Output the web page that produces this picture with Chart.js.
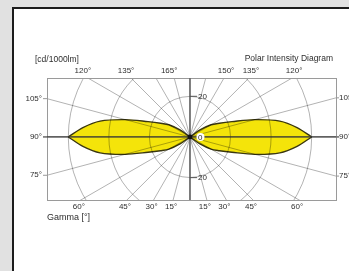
<!DOCTYPE html>
<html><head><meta charset="utf-8">
<script src="https://cdn.jsdelivr.net/npm/chart.js@4.4.1/dist/chart.umd.min.js"></script>
<style>
html,body{margin:0;padding:0;background:#e1e1e1;width:349px;height:271px;overflow:hidden}
#panel{position:absolute;left:12px;top:7px;width:400px;height:300px;background:#fff;border-left:2px solid #1c1c1c;border-top:2px solid #1c1c1c}
#c{position:absolute;left:0;top:0}
</style></head><body>
<div id="panel"></div>
<canvas id="c" width="349" height="271"></canvas>
<script>
// Off-axis angle from the 90° gamma axis (deg) and luminous intensity (cd/1000lm)
const offAxisAngles = [0, 5, 10, 15, 20, 25, 30, 35, 40];
const intensityLeft = [60, 53, 45, 33, 22, 16, 12, 6, 0];
const intensityRight = [60, 53, 45, 33, 22, 16, 12, 6, 0];
const circleValues = [20, 40, 60];
const radialGammas = [0, 15, 30, 45, 60, 75, 90, 105, 120, 135, 150, 165, 180];
const topLeftLabels = [120, 135, 165];
const topRightLabels = [150, 135, 120];
const bottomLabels = [60, 45, 30, 15];
const sideLabels = [105, 90, 75];
const radialLabels = [20, 0, -20];
const unitText = '[cd/1000lm]';
const titleText = 'Polar Intensity Diagram';
const axisText = 'Gamma [°]';

const rad = d => d * Math.PI / 180;
function half(intens, side, sign) {
  const pts = [];
  for (let i = offAxisAngles.length - 1; i >= 0; i--) {
    const a = rad(offAxisAngles[i]);
    pts.push({x: side * intens[i] * Math.cos(a), y: sign * intens[i] * Math.sin(a)});
  }
  return pts;
}
const yellow = '#f4e40a', edge = '#3a3710';
function ds(data) {
  return {data, showLine: true, borderColor: edge, borderWidth: 1.4, pointRadius: 0, tension: 0.3,
    fill: {target: 'origin', above: yellow, below: yellow}};
}

const gridPlugin = {
  id: 'polarGrid',
  afterDatasetsDraw(chart) {
    const {ctx, chartArea: ca, scales: {x, y}} = chart;
    const cx = x.getPixelForValue(0), cy = y.getPixelForValue(0);
    const pu = x.getPixelForValue(1) - cx;
    ctx.save();
    ctx.beginPath(); ctx.rect(ca.left, ca.top, ca.right - ca.left, ca.bottom - ca.top); ctx.clip();
    ctx.strokeStyle = 'rgba(0,0,0,0.3)'; ctx.lineWidth = 1;
    circleValues.forEach(v => { ctx.beginPath(); ctx.arc(cx, cy, v * pu, 0, Math.PI * 2); ctx.stroke(); });
    radialGammas.forEach(g => {
      [-1, 1].forEach(s => {
        ctx.beginPath(); ctx.moveTo(cx, cy);
        ctx.lineTo(cx + s * Math.sin(rad(g)) * 500, cy + Math.cos(rad(g)) * 500); ctx.stroke();
      });
    });
    ctx.restore();
    ctx.save();
    ctx.strokeStyle = '#9a9a9a'; ctx.lineWidth = 1;
    ctx.strokeRect(Math.round(ca.left) + 0.5, Math.round(ca.top) + 0.5, Math.round(ca.right - ca.left), Math.round(ca.bottom - ca.top));
    ctx.strokeStyle = '#3a3a3a'; ctx.lineWidth = 1.2;
    ctx.beginPath(); ctx.moveTo(ca.left - 4, cy); ctx.lineTo(ca.right + 3, cy); ctx.stroke();
    ctx.strokeStyle = '#555'; ctx.lineWidth = 1.2;
    ctx.beginPath(); ctx.moveTo(cx, ca.top); ctx.lineTo(cx, ca.bottom); ctx.stroke();
    ctx.strokeStyle = '#999'; ctx.lineWidth = 1;
    sideLabels.forEach(g => {
      const dy = (cx - ca.left) / Math.tan(rad(g));
      ctx.beginPath(); ctx.moveTo(ca.left - 4, cy + dy); ctx.lineTo(ca.left, cy + dy); ctx.stroke();
      const dyr = (ca.right - cx) / Math.tan(rad(g));
      ctx.beginPath(); ctx.moveTo(ca.right, cy + dyr); ctx.lineTo(ca.right + 3, cy + dyr); ctx.stroke();
    });
    ctx.strokeStyle = '#555';
    radialLabels.forEach(v => {
      if (v === 0) return;
      const py = y.getPixelForValue(v);
      ctx.beginPath(); ctx.moveTo(cx, py); ctx.lineTo(cx + 7, py); ctx.stroke();
    });
    ctx.fillStyle = '#111'; ctx.beginPath(); ctx.arc(cx, cy, 2.4, 0, Math.PI * 2); ctx.fill();

    ctx.fillStyle = '#2e2e2e';
    ctx.font = '8px "Liberation Sans", Arial, sans-serif';
    ctx.textBaseline = 'middle';
    const topY = ca.top - 7, botY = ca.bottom + 7;
    const upH = cy - ca.top, dnH = ca.bottom - cy;
    ctx.textAlign = 'center';
    topLeftLabels.forEach(g => {
      const dx = upH * Math.tan(rad(180 - g));
      ctx.fillText(g + '°', cx - dx - 5, topY);
    });
    topRightLabels.forEach(g => {
      const dx = upH * Math.tan(rad(180 - g));
      ctx.fillText(g + '°', cx + dx + 2, topY);
    });
    bottomLabels.forEach(g => {
      const dx = dnH * Math.tan(rad(g));
      ctx.fillText(g + '°', cx - dx - 2, botY);
      ctx.fillText(g + '°', cx + dx - 2, botY);
    });
    sideLabels.forEach(g => {
      const dyl = (cx - ca.left) / Math.tan(rad(g));
      ctx.textAlign = 'right'; ctx.fillText(g + '°', ca.left - 5, cy + dyl);
      const dyr = (ca.right - cx) / Math.tan(rad(g));
      ctx.textAlign = 'left'; ctx.fillText(g + '°', ca.right + 3, cy + dyr);
    });
    radialLabels.forEach(v => {
      const py = y.getPixelForValue(v);
      ctx.textAlign = 'left';
      if (v === 0) {
        ctx.fillStyle = '#fff'; ctx.beginPath(); ctx.arc(cx + 10.5, py, 4, 0, Math.PI * 2); ctx.fill();
        ctx.fillStyle = '#2e2e2e';
        ctx.fillText('0', cx + 8, py + 0.5);
      } else {
        ctx.fillText(String(Math.abs(v)), cx + 8, py);
      }
    });
    ctx.font = '8.5px "Liberation Sans", Arial, sans-serif';
    ctx.textAlign = 'left';
    ctx.fillText(unitText, ca.left - 12, ca.top - 18);
    ctx.textAlign = 'right';
    ctx.fillText(titleText, ca.right - 3, ca.top - 19);
    ctx.textAlign = 'left';
    ctx.font = '9px "Liberation Sans", Arial, sans-serif';
    ctx.fillText(axisText, ca.left, ca.bottom + 18);
    ctx.restore();
  }
};

new Chart(document.getElementById('c'), {
  type: 'scatter',
  data: {datasets: [
    ds(half(intensityLeft, -1, 1)), ds(half(intensityLeft, -1, -1)),
    ds(half(intensityRight, 1, 1)), ds(half(intensityRight, 1, -1))
  ]},
  options: {
    responsive: false, animation: false, devicePixelRatio: 1,
    layout: {padding: {left: 47, top: 78, right: 13, bottom: 71}},
    plugins: {legend: {display: false}, tooltip: {enabled: false}, title: {display: false}},
    scales: {
      x: {type: 'linear', min: -70.5, max: 72, display: false},
      y: {type: 'linear', min: -31, max: 29, display: false}
    }
  },
  plugins: [gridPlugin]
});
</script>
</body></html>
